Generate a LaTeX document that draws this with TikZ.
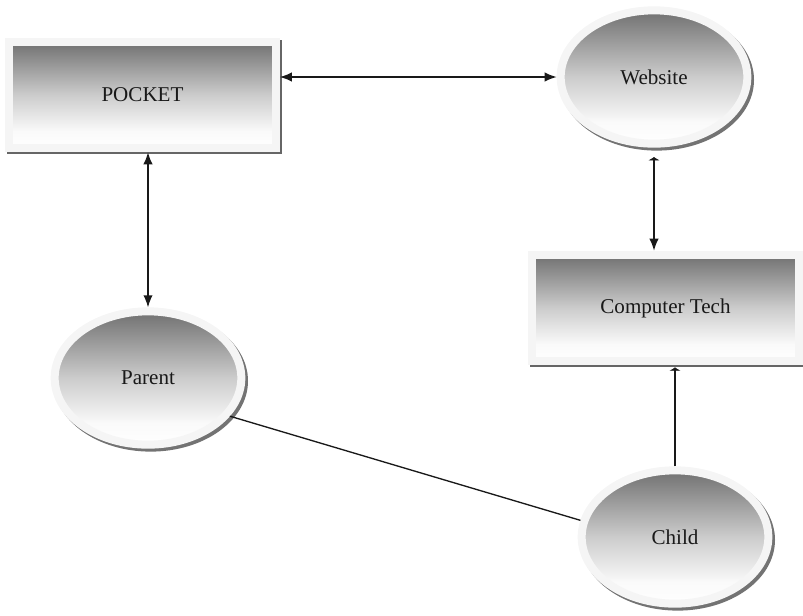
\documentclass[tikz,border=0pt]{standalone}
\usepackage{fontspec}
\setmainfont{Liberation Serif}
\usetikzlibrary{shadows,arrows.meta,shapes.geometric}
\pgfdeclareverticalshading{boxshade}{100bp}{color(0bp)=(white); color(25bp)=(white); color(33bp)=(white!98!black); color(50bp)=(black!20); color(75bp)=(black!56); color(100bp)=(black!56)}
\begin{document}
\begin{tikzpicture}[x=0.75pt,y=-0.75pt,
  every node/.style={font=\fontsize{15.8}{19}\selectfont, text=black!90},
  rbox/.style={rectangle, draw=black!4, line width=6pt, inner sep=0pt, minimum width=200pt, minimum height=80pt,
    shading=boxshade,
    drop shadow={shadow xshift=1.6pt, shadow yshift=-1.6pt, fill=black!60, draw=black!60, line width=6pt, opacity=1}},
  ebox/.style={ellipse, draw=black!4, line width=6pt, inner sep=0pt, minimum width=140pt, minimum height=100pt,
    shading=boxshade,
    drop shadow={shadow xshift=2pt, shadow yshift=-2.2pt, fill=black!55, draw=black!55, line width=6pt, opacity=1}},
  link/.style={line width=1pt, draw=black!90}
]
\useasboundingbox (0,0) rectangle (803,615);

\node[rbox] (pocket) at (142.5,95) {POCKET\hspace{12pt}};
\node[ebox] (website) at (654,77) {Website};
\node[rbox] (ct) at (665.5,308) {Computer Tech\hspace{14pt}};
\node[ebox] (parent) at (148,378) {Parent};
\node[ebox] (child) at (675,537) {Child};

\draw[link, {Latex[length=9pt,width=7pt]}-{Latex[length=9pt,width=7pt]}] (pocket.east |- website.west) -- (website.west);
\draw[link, {Latex[length=9pt,width=7pt]}-{Latex[length=9pt,width=7pt]}] (parent.north |- pocket.south) -- (parent.north);
\draw[link, {Latex[length=2.5pt,width=9pt]}-{Latex[length=9pt,width=7pt]}] ([yshift=-7pt]website.south) -- (ct.north -| website.south);
\draw[link, -{Latex[length=2.5pt,width=9pt]}] (child.north) -- ([yshift=-1.5pt]ct.south -| child.north);
\draw[link] (parent.-25) -- (child.170);
\end{tikzpicture}
\end{document}
